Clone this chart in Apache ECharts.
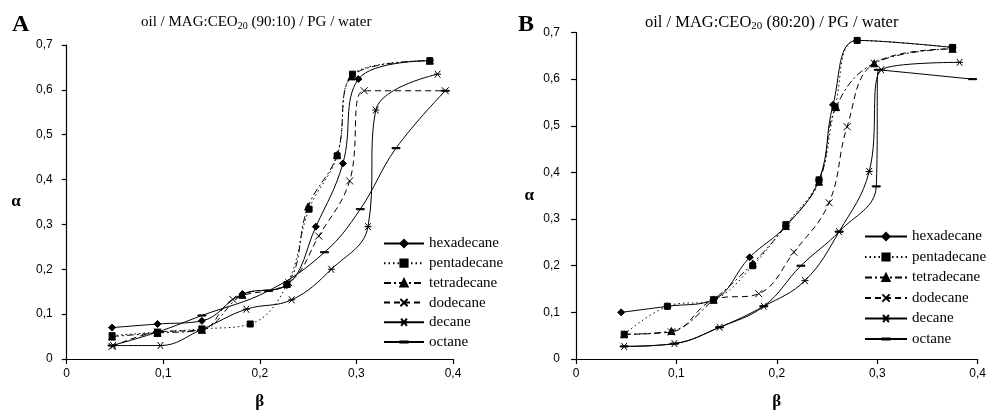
<!DOCTYPE html>
<html>
<head>
<meta charset="utf-8">
<script src="https://cdn.jsdelivr.net/npm/echarts@6/dist/echarts.min.js"></script>
<style>
  html, body { margin: 0; padding: 0; background: #fff; }
  #chart { width: 989px; height: 415px; }
</style>
</head>
<body>
<div id="chart"></div>
<script>
// Noms des séries (legende)
const seriesNames = ['hexadecane', 'pentadecane', 'tetradecane', 'dodecane', 'decane', 'octane'];
const xTicks = [0, 0.1, 0.2, 0.3, 0.4];
const yTicks = [0, 0.1, 0.2, 0.3, 0.4, 0.5, 0.6, 0.7];

// Panneau A : oil / MAG:CEO20 (90:10) / PG / water   -> [beta, alpha]
const hexadecaneA = [[0.047,0.070],[0.094,0.078],[0.140,0.085],[0.182,0.145],[0.228,0.165],[0.258,0.295],[0.286,0.436],[0.302,0.624],[0.376,0.665]];
const pentadecaneA = [[0.047,0.052],[0.094,0.060],[0.140,0.067],[0.190,0.078],[0.228,0.166],[0.251,0.334],[0.280,0.453],[0.296,0.635],[0.376,0.665]];
const tetradecaneA = [[0.047,0.050],[0.094,0.058],[0.140,0.065],[0.182,0.143],[0.228,0.168],[0.250,0.340],[0.280,0.455],[0.295,0.630],[0.376,0.665]];
const dodecaneA = [[0.047,0.028],[0.094,0.060],[0.140,0.065],[0.172,0.133],[0.230,0.170],[0.261,0.274],[0.293,0.397],[0.308,0.598],[0.392,0.598]];
const decaneA = [[0.048,0.030],[0.097,0.030],[0.140,0.066],[0.186,0.111],[0.233,0.132],[0.274,0.200],[0.312,0.295],[0.320,0.555],[0.384,0.635]];
const octaneA = [[0.047,0.030],[0.094,0.060],[0.140,0.097],[0.209,0.152],[0.267,0.238],[0.304,0.334],[0.341,0.470],[0.392,0.598]];

// Panneau B : oil / MAG:CEO20 (80:20) / PG / water
const hexadecaneB = [[0.045,0.100],[0.091,0.113],[0.137,0.127],[0.173,0.218],[0.209,0.285],[0.242,0.384],[0.256,0.545],[0.280,0.683],[0.375,0.668]];
const pentadecaneB = [[0.048,0.053],[0.091,0.113],[0.137,0.127],[0.176,0.200],[0.209,0.288],[0.242,0.384],[0.258,0.540],[0.280,0.683],[0.375,0.668]];
const tetradecaneB = [[0.048,0.053],[0.095,0.060],[0.137,0.127],[0.176,0.205],[0.209,0.285],[0.242,0.380],[0.259,0.540],[0.297,0.634],[0.375,0.665]];
const dodecaneB = [[0.048,0.053],[0.095,0.058],[0.137,0.127],[0.182,0.140],[0.217,0.229],[0.252,0.335],[0.270,0.498],[0.297,0.634],[0.375,0.665]];
const decaneB = [[0.048,0.027],[0.098,0.033],[0.143,0.068],[0.187,0.113],[0.228,0.168],[0.262,0.273],[0.292,0.402],[0.304,0.620],[0.382,0.636]];
const octaneB = [[0.048,0.027],[0.098,0.033],[0.143,0.068],[0.187,0.113],[0.224,0.200],[0.262,0.273],[0.299,0.370],[0.301,0.620],[0.395,0.600]];

const dataA = [hexadecaneA, pentadecaneA, tetradecaneA, dodecaneA, decaneA, octaneA];
const dataB = [hexadecaneB, pentadecaneB, tetradecaneB, dodecaneB, decaneB, octaneB];

const serif = '"Liberation Serif", "DejaVu Serif", serif';
const sans = '"Liberation Sans", Arial, sans-serif';

// Style de chaque courbe (trait + marqueur)
// le tiret de l'octane garde une boite carree pour que la legende ne le deforme pas
const styles = [
    { symbol: 'diamond', symbolSize: 7, dash: 'solid' },
    { symbol: 'rect', symbolSize: 6, dash: [1.5, 3] },
    { symbol: 'triangle', symbolSize: 7, dash: [7, 3, 2, 3] },
    { symbol: 'path://M0,0L10,10M10,0L0,10', symbolSize: 7, dash: [6, 4] },
    { symbol: 'path://M1,1L9,9M9,1L1,9M0,5L10,5', symbolSize: 7, dash: 'solid' },
    { symbol: 'path://M5,0L5,0.01M0,4.3L10,4.3L10,5.7L0,5.7ZM5,10L5,9.99', symbolSize: 8, dash: 'solid' }
];

const fmt = function (v) {
    return v === 0 ? '0' : v.toFixed(1).replace('.', ',');
};

function makeX(gridIndex) {
    return {
        type: 'value', gridIndex: gridIndex, min: 0, max: 0.4, interval: 0.1,
        name: 'β', nameLocation: 'middle', nameGap: 34,
        nameTextStyle: { fontFamily: serif, fontSize: 17, fontWeight: 'bold', color: '#000' },
        axisLine: { lineStyle: { color: '#000', width: 1.2 } },
        axisTick: { show: true, length: 5, lineStyle: { color: '#000', width: 1.2 } },
        axisLabel: { color: '#000', fontFamily: sans, fontSize: 12, margin: 9, formatter: fmt },
        splitLine: { show: false }
    };
}

function makeY(gridIndex, gap, margin) {
    return {
        type: 'value', gridIndex: gridIndex, min: 0, max: 0.7, interval: 0.1,
        name: 'α', nameLocation: 'middle', nameGap: gap, nameRotate: 0,
        nameTextStyle: { fontFamily: serif, fontSize: 17, fontWeight: 'bold', color: '#000' },
        axisLine: { show: true, lineStyle: { color: '#000', width: 1.2 } },
        axisTick: { show: true, length: 5, lineStyle: { color: '#000', width: 1.2 } },
        axisLabel: { color: '#000', fontFamily: sans, fontSize: 12, margin: margin, formatter: fmt },
        splitLine: { show: false }
    };
}

function makeSeries(data, axisIndex) {
    return data.map((d, i) => ({
        name: seriesNames[i],
        type: 'line',
        xAxisIndex: axisIndex,
        yAxisIndex: axisIndex,
        data: d,
        smooth: 0.4,
        symbol: styles[i].symbol,
        symbolSize: styles[i].symbolSize,
        showAllSymbol: true,
        itemStyle: { color: '#000', borderColor: '#000', borderWidth: 1 },
        lineStyle: { color: '#000', width: 1, type: styles[i].dash },
        emphasis: { disabled: true },
        z: 10 - i
    }));
}

function makeLegend(left, top, gap, width) {
    return {
        data: seriesNames, orient: 'vertical', left: left, top: top,
        itemWidth: width, itemHeight: 9, itemGap: gap,
        textStyle: { fontFamily: serif, fontSize: 15, color: '#000' },
        selectedMode: false
    };
}

function makeTitle(text, left, size) {
    return {
        text: text, left: left, top: 8,
        textStyle: {
            fontFamily: serif, fontSize: size, fontWeight: 'normal', color: '#000',
            rich: { s: { fontFamily: serif, fontSize: Math.round(size * 0.66), padding: [8, 0, 0, 0] } }
        }
    };
}

const chart = echarts.init(document.getElementById('chart'), null, { renderer: 'canvas' });

const option = {
    animation: false,
    backgroundColor: '#fff',
    title: [
        makeTitle('oil / MAG:CEO{s|20} (90:10) / PG / water', 136, 15),
        makeTitle('oil / MAG:CEO{s|20} (80:20) / PG / water', 640, 16.5),
        { text: 'A', left: 7, top: 8, textStyle: { fontFamily: serif, fontSize: 24, fontWeight: 'bold', color: '#000' } },
        { text: 'B', left: 513, top: 8, textStyle: { fontFamily: serif, fontSize: 24, fontWeight: 'bold', color: '#000' } }
    ],
    legend: [makeLegend(378, 231, 4.7, 40), makeLegend(859, 224, 5.5, 42)],
    grid: [
        { left: 66.7, right: 536, top: 45, bottom: 56 },
        { left: 576, right: 11, top: 32.5, bottom: 56 }
    ],
    xAxis: [makeX(0), makeX(1)],
    yAxis: [makeY(0, 46, 14), makeY(1, 42, 16)],
    series: makeSeries(dataA, 0).concat(makeSeries(dataB, 1))
};

chart.setOption(option);
window.addEventListener('resize', chart.resize);
</script>
</body>
</html>
